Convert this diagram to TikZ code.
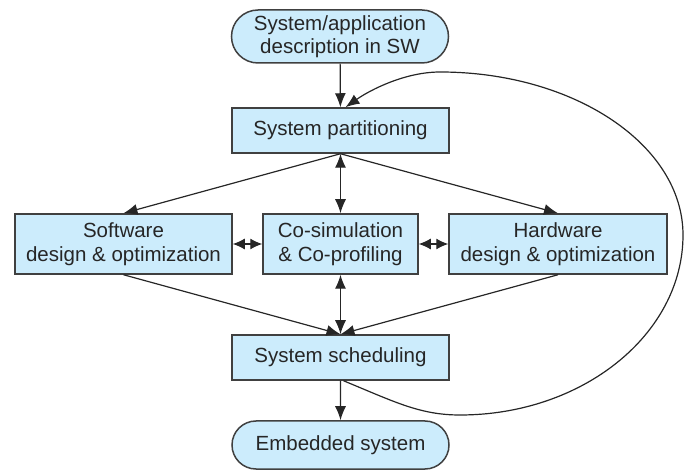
\documentclass[tikz,border=0pt]{standalone}
\usepackage{fontspec}
\setmainfont{Liberation Sans}
\usetikzlibrary{arrows.meta,shapes.misc}
\definecolor{boxfill}{RGB}{204,236,252}
\definecolor{boxline}{RGB}{64,64,64}
\begin{document}
\begin{tikzpicture}[x=1pt,y=-1pt,
  base/.style={draw=boxline,fill=boxfill,line width=1.5pt,inner sep=0pt,align=center,
    font=\fontsize{20.5}{23.5}\selectfont,text=black!85},
  rect/.style={base,rectangle,minimum width=217pt},
  term/.style={base,rounded rectangle,minimum width=217pt},
  conn/.style={line width=1.2pt,draw=black!85,-{Latex[length=14pt,width=11pt]}},
  dconn/.style={line width=1.2pt,draw=black!85,{Latex[length=14pt,width=11pt]}-{Latex[length=14pt,width=11pt]}},
  sconn/.style={line width=1.2pt,draw=black!85,{Latex[length=12pt,width=11pt]}-{Latex[length=12pt,width=11pt]}}]
\useasboundingbox (0,0) rectangle (686,470);
\node[term,minimum height=53pt] (top) at (340,36.5) {System/application\\description in SW};
\node[rect,minimum height=45pt] (part) at (340.5,130.5) {System partitioning};
\node[rect,minimum height=60pt] (sw) at (123.5,244) {Software\\design \& optimization};
\node[rect,minimum height=60pt,minimum width=155pt] (cs) at (340.5,244) {Co-simulation\\\& Co-profiling};
\node[rect,minimum height=60pt,minimum width=218pt] (hw) at (558,244) {Hardware\\design \& optimization};
\node[rect,minimum height=45pt] (sched) at (340.5,357.5) {System scheduling};
\node[term,minimum height=48pt] (emb) at (340.5,445) {Embedded system};
\draw[conn] (top) -- (part);
\draw[conn] (part.south) -- (sw.north);
\draw[conn] (part.south) -- (hw.north);
\draw[dconn] (part) -- (cs);
\draw[dconn] (cs) -- (sched);
\draw[sconn] (sw) -- (cs);
\draw[sconn] (cs) -- (hw);
\draw[conn] (sw.south) -- (sched.north);
\draw[conn] (hw.south) -- (sched.north);
\draw[conn] (sched) -- (emb);
\coordinate (c1) at (460,415);
\coordinate (c2) at (683,235);
\coordinate (c3) at (440,72);
\draw[conn] ([xshift=3pt]sched.south) .. controls (395,402) and (420,415) .. (c1)
  .. controls (583,415) and (683,334) .. (c2)
  .. controls (683,145) and (574,72) .. (c3)
  .. controls (405,72) and (370,90) .. ([xshift=5pt]part.north);
\end{tikzpicture}
\end{document}
